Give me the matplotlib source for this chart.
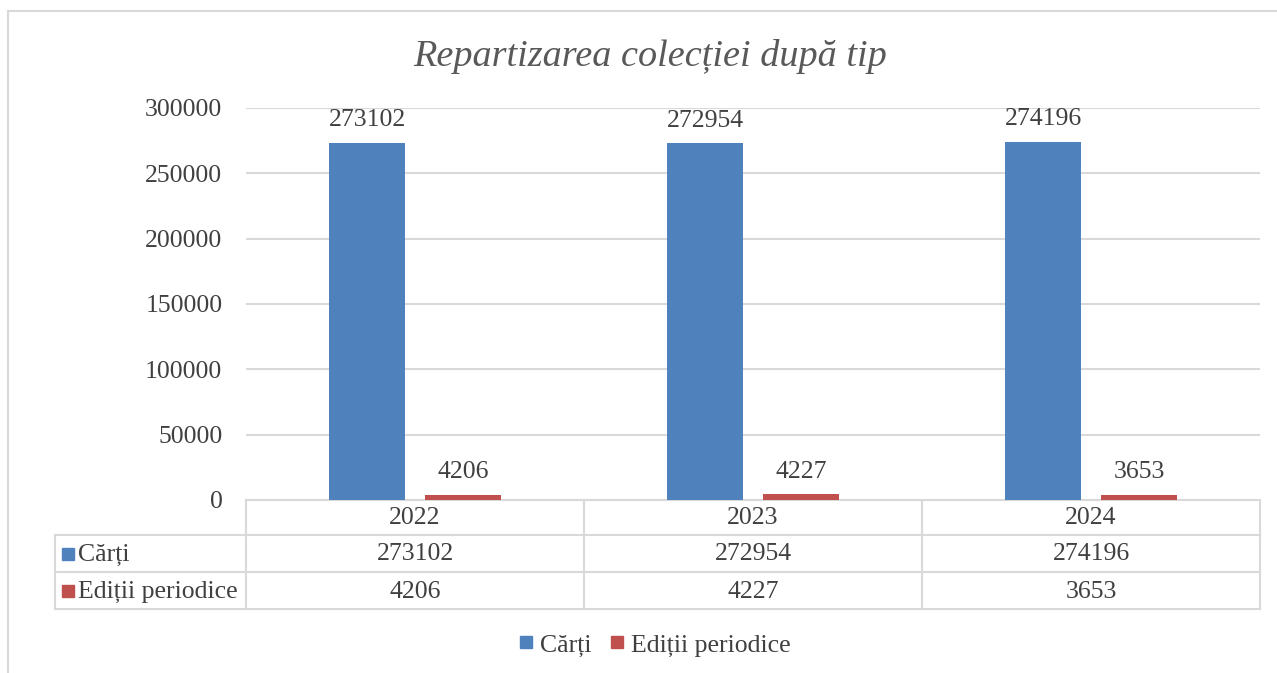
import numpy as np
import matplotlib
matplotlib.use('Agg')
from matplotlib import pyplot as plt
from matplotlib.lines import Line2D

years = ['2022', '2023', '2024']
carti = [273102, 272954, 274196]
editii = [4206, 4227, 3653]
series_names = ['Cărți', 'Ediții periodice']
colors = ['#4F81BD', '#C0504D']
title = 'Repartizarea colecției după tip'

plt.rcParams['font.family'] = ['Liberation Serif', 'DejaVu Serif']
txt = '#404040'
grid = '#D9D9D9'
fs = 18.5

W, H = 1277, 673
fig = plt.figure(figsize=(W / 100, H / 100), dpi=100)

# overlay in pixel coords for frame and data table
ov = fig.add_axes([0, 0, 1, 1])
ov.set_xlim(0, W)
ov.set_ylim(H, 0)
ov.axis('off')
ov.plot([8, W + 5], [11, 11], color=grid, lw=1.5)
ov.plot([8, 8], [11, H + 5], color=grid, lw=1.5)
ov.text(650, 57, title, ha='center', va='center', fontsize=27.5, style='italic', color='#595959')

# main axes
x0, x1, ytop, ybot = 246, 1260, 108, 500
ax = fig.add_axes([x0 / W, 1 - ybot / H, (x1 - x0) / W, (ybot - ytop) / H])
x = np.arange(len(years))
off, bw = 0.142, 0.222
b1 = ax.bar(x - off, carti, bw, color=colors[0], zorder=3)
b2 = ax.bar(x + off, editii, bw, color=colors[1], zorder=3)
for bars, vals in ((b1, carti), (b2, editii)):
    for r, v in zip(bars, vals):
        ax.annotate(str(v), (r.get_x() + r.get_width() / 2, v), xytext=(0, 8.5),
                    textcoords='offset points', ha='center', va='bottom',
                    fontsize=fs, color=txt)
ax.set_xlim(-0.5, len(years) - 0.5)
ax.set_ylim(0, 300000)
ax.set_yticks(range(0, 300001, 50000))
ax.yaxis.grid(True, color=grid, lw=1.5, zorder=0)
ax.tick_params(axis='y', length=0, pad=17, labelsize=fs, labelcolor=txt)
ax.set_xticks([])
for s in ax.spines.values():
    s.set_visible(False)

# data table
rows_y = [500, 535, 572, 609]
col_x = [x0 + (x1 - x0) * i / len(years) for i in range(len(years) + 1)]
lab_x = 55
ov.plot([x0, x1], [rows_y[0], rows_y[0]], color=grid, lw=1.5)
for yy in rows_y[1:]:
    ov.plot([lab_x, x1], [yy, yy], color=grid, lw=1.5)
ov.plot([lab_x, lab_x], [rows_y[1], rows_y[3]], color=grid, lw=1.5)
for cx in col_x:
    ov.plot([cx, cx], [rows_y[0], rows_y[3]], color=grid, lw=1.5)
for i, yr in enumerate(years):
    cx = (col_x[i] + col_x[i + 1]) / 2
    ov.text(cx, (rows_y[0] + rows_y[1]) / 2 + 1, yr, ha='center', va='center', fontsize=fs, color=txt)
    for j, vals in enumerate((carti, editii)):
        ov.text(cx, (rows_y[j + 1] + rows_y[j + 2]) / 2 + 1, str(vals[i]), ha='center', va='center',
                fontsize=fs, color=txt)
for j, name in enumerate(series_names):
    yc = (rows_y[j + 1] + rows_y[j + 2]) / 2
    ov.plot([67.5], [yc], marker='s', ms=8.5, color=colors[j], ls='none')
    ov.text(78, yc + 1, name, ha='left', va='center', fontsize=fs, color=txt)

handles = [Line2D([], [], marker='s', ms=8.5, color=c, ls='none') for c in colors]
fig.legend(handles, series_names, loc='center', bbox_to_anchor=(653 / W, 1 - 645 / H), ncol=2,
           frameon=False, fontsize=fs, labelcolor=txt, handletextpad=0.15, columnspacing=0.6,
           handlelength=0.8)

fig.savefig('out.png', dpi=100)
